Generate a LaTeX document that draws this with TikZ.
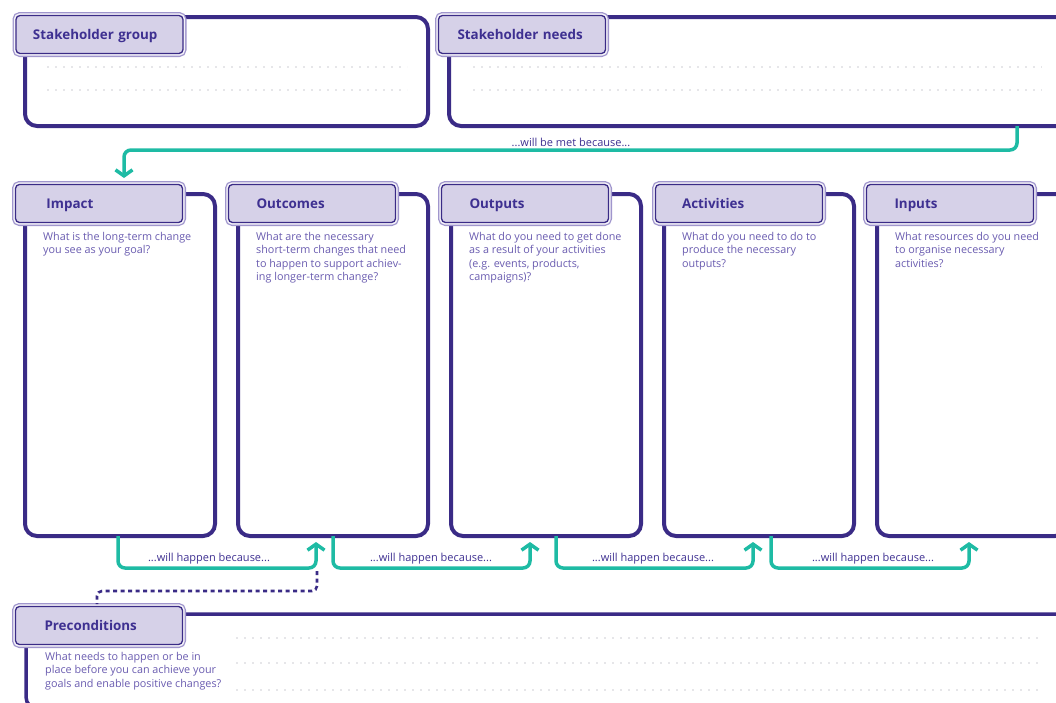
\documentclass[tikz,border=0pt]{standalone}
\usepackage{fontspec}
\setmainfont{Open Sans}
\usetikzlibrary{arrows.meta}

\definecolor{ink}{RGB}{58,43,134}
\definecolor{tabfill}{RGB}{214,209,232}
\definecolor{tabrim}{RGB}{160,150,205}
\definecolor{headtext}{RGB}{62,48,145}
\definecolor{asktext}{RGB}{106,92,176}
\definecolor{flowteal}{RGB}{30,187,164}
\definecolor{guideline}{RGB}{230,230,233}

\tikzset{
  panel/.style={draw=ink, line width=4pt, rounded corners=12pt, anchor=north west,
    inner sep=0pt, outer sep=0pt, fill=white},
  tab/.style={anchor=center, minimum height=38pt, text width=167pt, inner xsep=0pt,
    inner ysep=0pt, outer sep=0pt, align=left, font=\fontsize{13.4}{15}\selectfont\bfseries,
    text=headtext, fill=tabfill, draw=ink, line width=1.3pt, rounded corners=4pt,
    preaction={draw=tabrim, line width=7pt},
    preaction={draw=white!75!tabfill, line width=4.4pt},
    execute at begin node={\hspace*{#1}\rule[-3.5pt]{0pt}{16.5pt}}},
  tab/.default=28pt,
  ask/.style={anchor=north west, inner sep=0pt, align=left,
    font=\fontsize{10.8}{13.5}\selectfont, text=asktext},
  flow/.style={draw=flowteal, line width=3.5pt, rounded corners=7pt,
    -{Straight Barb[length=6pt,width=17pt]}},
  flowtext/.style={font=\fontsize{11}{12}\selectfont, text=headtext, inner sep=0pt},
  guide/.style={draw=guideline, line width=1.6pt, dash pattern=on 1.6pt off 6.4pt},
  precond/.style={draw=ink, line width=2.6pt, dash pattern=on 4pt off 3.5pt,
    rounded corners=5pt}
}

\begin{document}
\begin{tikzpicture}[x=1pt, y=-1pt]
\useasboundingbox (0,0) rectangle (1056,702);
\clip (0,0) rectangle (1056,702);

% top row: stakeholders
\node[panel, minimum width=403pt, minimum height=109pt] (sgbox) at (25,17) {};
\node[panel, minimum width=620pt, minimum height=109pt] (snbox) at (449,17) {};
\draw[guide] (47,67) -- (407,67);
\draw[guide] (47,90) -- (407,90);
\draw[guide] (473,67) -- (1042,67);
\draw[guide] (473,90) -- (1042,90);
\node[tab=17pt] (sgtab) at (99.5,34.5) {Stakeholder group};
\node[tab=19pt] (sntab) at (522,34.5) {Stakeholder needs};

% middle row: the five stages
\node[panel, minimum width=190pt, minimum height=342pt] (impactbox) at (25,194) {};
\node[panel, minimum width=190pt, minimum height=342pt] (outcomesbox) at (238,194) {};
\node[panel, minimum width=190pt, minimum height=342pt] (outputsbox) at (451,194) {};
\node[panel, minimum width=190pt, minimum height=342pt] (activitiesbox) at (664,194) {};
\node[panel, minimum width=190pt, minimum height=342pt] (inputsbox) at (877,194) {};

\node[tab=31pt] (impacttab) at (99,203.5) {Impact};
\node[tab] (outcomestab) at (312,203.5) {Outcomes};
\node[tab] (outputstab) at (525,203.5) {Outputs};
\node[tab=26.5pt] (activitiestab) at (739,203.5) {Activities};
\node[tab] (inputstab) at (950,203.5) {Inputs};

\node[ask] (impactask) at (43,232) {What is the long-term change\\you see as your goal?};
\node[ask] (outcomesask) at (256,232) {What are the necessary\\short-term changes that need\\to happen to support achiev-\\ing longer-term change?};
\node[ask] (outputsask) at (469,232) {What do you need to get done\\as a result of your activities\\(e.g. events, products,\\campaigns)?};
\node[ask] (activitiesask) at (682,232) {What do you need to do to\\produce the necessary\\outputs?};
\node[ask] (inputsask) at (895,232) {What resources do you need\\to organise necessary\\activities?};

% bottom row: preconditions
\node[panel, line width=3.5pt, minimum width=1060pt, minimum height=95pt] (prebox) at (26,614) {};
\draw[guide] (236,638) -- (1040,638);
\draw[guide] (236,663) -- (1040,663);
\draw[guide] (236,690) -- (1040,690);
\node[tab=29pt] (pretab) at (99,625.5) {Preconditions};
\node[ask] (preask) at (45,652) {What needs to happen or be in\\place before you can achieve your\\goals and enable positive changes?};

% connectors
\draw[flow] ([xshift=568pt]snbox.south west) -- ++(0,24)
  -| ([xshift=25pt,yshift=6.5pt]impacttab.north);
\node[flowtext] (metlabel) at (571,142) {...will be met because...};

\draw[flow] ([xshift=93pt]impactbox.south west) -- ++(0,32)
  -| ([xshift=78pt,yshift=-6pt]outcomesbox.south west);
\draw[flow] ([xshift=95pt]outcomesbox.south west) -- ++(0,32)
  -| ([xshift=79pt,yshift=-6pt]outputsbox.south west);
\draw[flow] ([xshift=105pt]outputsbox.south west) -- ++(0,32)
  -| ([xshift=89pt,yshift=-6pt]activitiesbox.south west);
\draw[flow] ([xshift=107pt]activitiesbox.south west) -- ++(0,32)
  -| ([xshift=92pt,yshift=-6pt]inputsbox.south west);

\node[flowtext] (why1) at (209,559) {...will happen because...};
\node[flowtext] (why2) at (431,559) {...will happen because...};
\node[flowtext] (why3) at (653,559) {...will happen because...};
\node[flowtext] (why4) at (873,559) {...will happen because...};

\coordinate (prestart) at ([xshift=79pt,yshift=-35pt]outcomesbox.south west);
\draw[precond] (prestart) -- ++(0,20) -| ([xshift=-2pt,yshift=2.5pt]pretab.north);
\end{tikzpicture}
\end{document}
